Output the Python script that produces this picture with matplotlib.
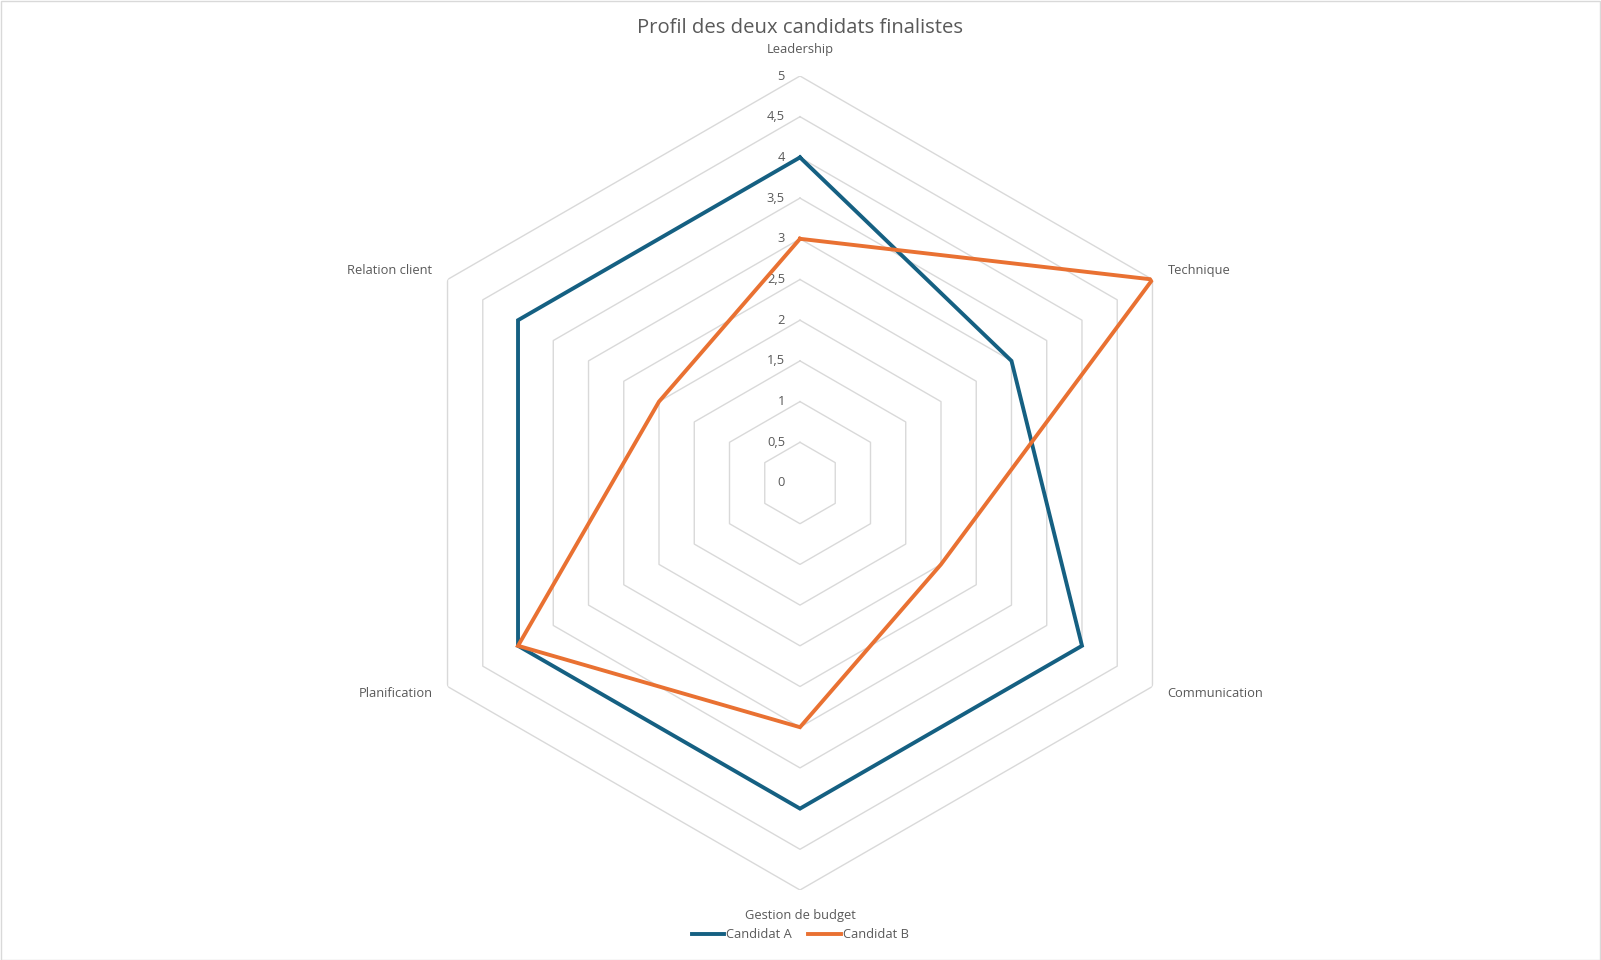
import numpy as np
import matplotlib
matplotlib.use("Agg")
import matplotlib.pyplot as plt
from matplotlib.transforms import offset_copy
from matplotlib.lines import Line2D
from matplotlib.patches import Rectangle

categories = ["Leadership", "Technique", "Communication", "Gestion de budget",
              "Planification", "Relation client"]
candidat_a = [4, 3, 4, 4, 4, 4]
candidat_b = [3, 5, 2, 3, 4, 2]
series_names = ["Candidat A", "Candidat B"]
ring_values = [0, 0.5, 1, 1.5, 2, 2.5, 3, 3.5, 4, 4.5, 5]
ring_labels = ["0", "0,5", "1", "1,5", "2", "2,5", "3", "3,5", "4", "4,5", "5"]
title = "Profil des deux candidats finalistes"

COL_A = "#156082"
COL_B = "#E97132"
TXT = "#595959"
GRID = "#D9D9D9"

plt.rcParams["font.family"] = ["Open Sans", "DejaVu Sans"]

W, H = 1601, 960
fig = plt.figure(figsize=(W / 100, H / 100), dpi=100)
cx, cy, R = 800, 483, 407
ax = fig.add_axes([(cx - R) / W, (H - cy - R) / H, 2 * R / W, 2 * R / H],
                  projection="polar")
ax.set_theta_zero_location("N")
ax.set_theta_direction(-1)
ax.set_ylim(0, 5)
ax.grid(False)
ax.set_xticks([])
ax.set_yticks([])
ax.spines["polar"].set_visible(False)
ax.patch.set_visible(False)

n = len(categories)
angles = np.linspace(0, 2 * np.pi, n, endpoint=False)
ang_closed = np.concatenate([angles, angles[:1]])

for r in ring_values[1:]:
    ax.plot(ang_closed, [r] * (n + 1), color=GRID, lw=1.0, zorder=1)

def closed(v):
    return list(v) + [v[0]]

ax.plot(ang_closed, closed(candidat_a), color=COL_A, lw=2.8, zorder=3,
        solid_joinstyle="miter")
ax.plot(ang_closed, closed(candidat_b), color=COL_B, lw=2.8, zorder=4,
        solid_joinstyle="miter")

# radial tick labels
tl = offset_copy(ax.transData, fig=fig, x=-15, y=0, units="dots")
for r, lab in zip(ring_values, ring_labels):
    ax.text(0, r, lab, transform=tl, ha="right", va="center",
            fontsize=9.3, color=TXT)

# category labels
offsets = [(0, 26, "center"), (15, 9, "left"), (15, -7, "left"),
           (0, -25, "center"), (-15, -7, "right"), (-15, 9, "right")]
for a, cat, (dx, dy, ha) in zip(angles, categories, offsets):
    tr = offset_copy(ax.transData, fig=fig, x=dx, y=dy, units="dots")
    ax.text(a, 5, cat, transform=tr, ha=ha, va="center", fontsize=9.3,
            color=TXT)

fig.text(cx / W, 1 - 28 / H, title, ha="center", va="center", fontsize=14.6,
         color=TXT)

handles = [Line2D([], [], color=COL_A, lw=2.8),
           Line2D([], [], color=COL_B, lw=2.8)]
leg = fig.legend(handles, series_names, loc="center", ncol=2,
                 bbox_to_anchor=(cx / W, 1 - 935 / H), frameon=False,
                 fontsize=9.3, handlelength=2.5, handletextpad=0.15,
                 columnspacing=1.3, labelcolor=TXT)

fig.add_artist(Rectangle((0.5 / W, 0.5 / H), 1 - 1.5 / W, 1 - 1.5 / H,
                         transform=fig.transFigure, fill=False,
                         edgecolor=GRID, lw=1))

fig.savefig("out.png", dpi=100)
